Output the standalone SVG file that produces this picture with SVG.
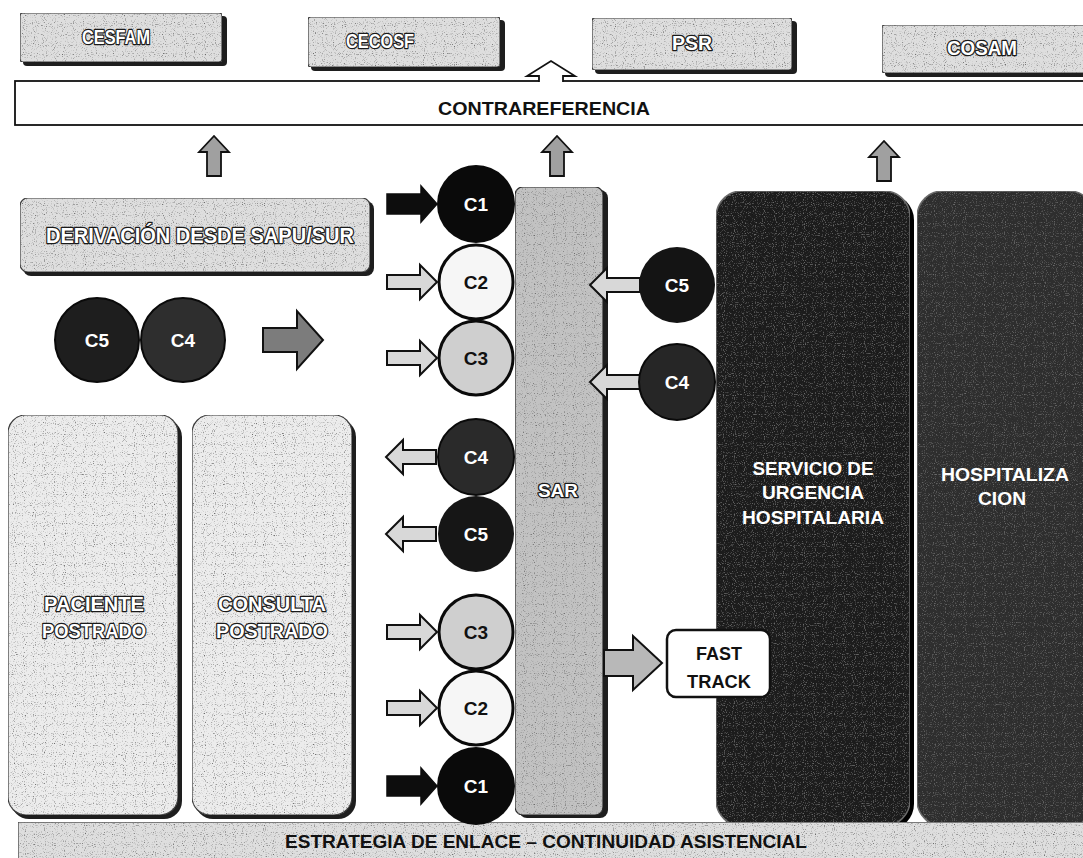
<svg xmlns="http://www.w3.org/2000/svg" xmlns:xlink="http://www.w3.org/1999/xlink" width="1083" height="858" viewBox="0 0 1083 858">
  <style>
    text { font-family: "Liberation Sans", Arial, sans-serif; font-weight: bold; text-anchor: middle; }
    .emb { fill: #ffffff; stroke: #1a1a1a; stroke-width: 2.6; paint-order: stroke fill; stroke-linejoin: round; }
    .dark { fill: #111111; }
    .white { fill: #ffffff; }
    .shadow { fill: #1e1e1e; }
    .tab { fill: #dedede; stroke: #3a3a3a; stroke-width: 1.2; }
    .pale { fill: #ececec; stroke: #3a3a3a; stroke-width: 1.2; }
    .sar { fill: #c2c2c2; stroke: #2a2a2a; stroke-width: 1.2; }
    .arr-solid { fill: #0d0d0d; stroke: #0d0d0d; stroke-width: 1.5; stroke-linejoin: miter; }
    .arr-light { fill: #d8d8d8; stroke: #111111; stroke-width: 2; stroke-linejoin: miter; }
    .arr-mid { fill: #a0a0a0; stroke: #111111; stroke-width: 1.8; stroke-linejoin: miter; }
    .arr-grey { fill: #7c7c7c; stroke: #111111; stroke-width: 2; stroke-linejoin: miter; }
    .cnum { font-size: 19px; }
  </style>
  <defs>
    <!-- speckled print texture for the grey panels -->
    <filter id="speck" x="0" y="0" width="1" height="1">
      <feTurbulence type="fractalNoise" baseFrequency="0.9" numOctaves="1" seed="7" result="n"/>
      <feColorMatrix in="n" type="matrix" values="0 0 0 0 0.15  0 0 0 0 0.15  0 0 0 0 0.15  0 0 0 -4 1.75" result="d"/>
      <feComposite in="d" in2="SourceAlpha" operator="in" result="dc"/>
      <feMerge><feMergeNode in="SourceGraphic"/><feMergeNode in="dc"/></feMerge>
    </filter>
    <!-- block arrow pointing right, tip at origin -->
    <path id="ar" d="M-50,-7 H-17 V-17 L0,0 L-17,17 V7 H-50 Z"/>
    <path id="arBold" d="M-50,-10 H-16 V-18 L0,0 L-16,18 V10 H-50 Z"/>
    <!-- block arrow pointing up, base at origin -->
    <path id="au" d="M-7,0 V-24 H-15 L0,-40 L15,-24 H7 V0 Z"/>
  </defs>

  <rect width="1083" height="858" fill="#ffffff"/>

  <!-- top row of primary care centres -->
  <g id="cesfam">
    <rect class="shadow" x="23" y="16" width="204" height="50" rx="4"/>
    <rect class="tab" x="20" y="13" width="202" height="49" rx="3" filter="url(#speck)"/>
    <text class="emb" x="116" y="44" font-size="20" textLength="68" lengthAdjust="spacingAndGlyphs">CESFAM</text>
  </g>
  <g id="cecosf">
    <rect class="shadow" x="311" y="20" width="194" height="51" rx="4"/>
    <rect class="tab" x="308" y="17" width="192" height="50" rx="3" filter="url(#speck)"/>
    <text class="emb" x="380" y="48" font-size="20" textLength="68" lengthAdjust="spacingAndGlyphs">CECOSF</text>
  </g>
  <g id="psr">
    <rect class="shadow" x="595" y="21" width="202" height="53" rx="4"/>
    <rect class="tab" x="592" y="18" width="200" height="52" rx="3" filter="url(#speck)"/>
    <text class="emb" x="692" y="50" font-size="20" textLength="40" lengthAdjust="spacingAndGlyphs">PSR</text>
  </g>
  <g id="cosam">
    <rect class="shadow" x="885" y="28" width="210" height="49" rx="4"/>
    <rect class="tab" x="882" y="25" width="210" height="48" rx="3" filter="url(#speck)"/>
    <text class="emb" x="982" y="55" font-size="20" textLength="70" lengthAdjust="spacingAndGlyphs">COSAM</text>
  </g>

  <!-- counter-referral band -->
  <g id="contrareferencia">
    <rect x="15" y="81" width="1080" height="44" fill="#ffffff" stroke="#111111" stroke-width="1.8"/>
    <text class="dark" x="544" y="115" font-size="18" textLength="212" lengthAdjust="spacingAndGlyphs">CONTRAREFERENCIA</text>
    <polygon points="539,83 539,76 527,76 551,61 575,76 563,76 563,83" fill="#ffffff"/>
    <polyline points="539,82 539,76 527,76 551,61 575,76 563,76 563,82" fill="none" stroke="#111111" stroke-width="1.8" stroke-linejoin="miter"/>
  </g>

  <!-- referral from SAPU/SUR -->
  <g id="derivacion">
    <rect class="shadow" x="23" y="201" width="351" height="75" rx="8"/>
    <rect class="tab" x="20" y="198" width="350" height="74" rx="8" filter="url(#speck)"/>
    <text class="emb" x="200" y="243" font-size="22" textLength="308" lengthAdjust="spacingAndGlyphs">DERIVACIÓN DESDE SAPU/SUR</text>
  </g>

  <!-- bedridden patient columns -->
  <g id="paciente-postrado">
    <rect class="shadow" x="11" y="419" width="171" height="400" rx="18"/>
    <rect class="pale" x="8" y="415" width="170" height="400" rx="18" filter="url(#speck)"/>
    <text class="emb" x="94" y="611" font-size="21" textLength="100" lengthAdjust="spacingAndGlyphs">PACIENTE</text>
    <text class="emb" x="94" y="638" font-size="21" textLength="104" lengthAdjust="spacingAndGlyphs">POSTRADO</text>
  </g>
  <g id="consulta-postrado">
    <rect class="shadow" x="195" y="419" width="161" height="400" rx="18"/>
    <rect class="pale" x="192" y="415" width="160" height="400" rx="18" filter="url(#speck)"/>
    <text class="emb" x="272" y="611" font-size="21" textLength="108" lengthAdjust="spacingAndGlyphs">CONSULTA</text>
    <text class="emb" x="272" y="638" font-size="21" textLength="112" lengthAdjust="spacingAndGlyphs">POSTRADO</text>
  </g>

  <!-- SAR column -->
  <g id="sar">
    <rect class="shadow" x="519" y="190" width="89" height="628" rx="8"/>
    <rect class="sar" x="515" y="187" width="88" height="628" rx="8" filter="url(#speck)"/>
    <text class="emb" x="558" y="497" font-size="19">SAR</text>
  </g>

  <!-- hospital emergency service and inpatient care -->
  <g id="servicio-urgencia">
    <rect x="719" y="194" width="195" height="636" rx="26" fill="#000000"/>
    <rect x="716" y="191" width="194" height="635" rx="26" fill="#1b1b1b" stroke="#6a6a6a" stroke-width="1.5" filter="url(#speck)"/>
    <text class="white" x="813" y="475" font-size="19" textLength="121" lengthAdjust="spacingAndGlyphs">SERVICIO DE</text>
    <text class="white" x="813" y="499" font-size="19" textLength="102" lengthAdjust="spacingAndGlyphs">URGENCIA</text>
    <text class="white" x="813" y="524" font-size="19" textLength="142" lengthAdjust="spacingAndGlyphs">HOSPITALARIA</text>
  </g>
  <g id="hospitalizacion">
    <rect x="920" y="194" width="180" height="636" rx="26" fill="#000000"/>
    <rect x="917" y="191" width="178" height="635" rx="26" fill="#2e2e2e" stroke="#6a6a6a" stroke-width="1.5" filter="url(#speck)"/>
    <text class="white" x="1005" y="481" font-size="19" textLength="128" lengthAdjust="spacingAndGlyphs">HOSPITALIZA</text>
    <text class="white" x="1002" y="505" font-size="19" textLength="48" lengthAdjust="spacingAndGlyphs">CION</text>
  </g>

  <!-- fast track box -->
  <g id="fast-track">
    <rect x="667" y="630" width="103" height="67" rx="9" fill="#ffffff" stroke="#111111" stroke-width="2.5"/>
    <text class="dark" x="719" y="660" font-size="18" textLength="46" lengthAdjust="spacingAndGlyphs">FAST</text>
    <text class="dark" x="719" y="688" font-size="18" textLength="64" lengthAdjust="spacingAndGlyphs">TRACK</text>
  </g>

  <!-- bottom band -->
  <g id="estrategia">
    <rect class="tab" x="18" y="822" width="1080" height="40" filter="url(#speck)"/>
    <text class="dark" x="546" y="848" font-size="19" textLength="522" lengthAdjust="spacingAndGlyphs">ESTRATEGIA DE ENLACE – CONTINUIDAD ASISTENCIAL</text>
  </g>

  <!-- connectors -->
  <g id="connectors">
    <use xlink:href="#au" class="arr-mid" transform="translate(214,176)"/>
    <use xlink:href="#au" class="arr-mid" transform="translate(557,176)"/>
    <use xlink:href="#au" class="arr-mid" transform="translate(884,181)"/>

    <use xlink:href="#arBold" class="arr-solid" transform="translate(437,204)"/>
    <use xlink:href="#ar" class="arr-light" transform="translate(437,282)"/>
    <use xlink:href="#ar" class="arr-light" transform="translate(437,358)"/>

    <use xlink:href="#ar" class="arr-light" transform="translate(386,457) scale(-1,1)"/>
    <use xlink:href="#ar" class="arr-light" transform="translate(386,534) scale(-1,1)"/>
    <use xlink:href="#ar" class="arr-light" transform="translate(437,632)"/>
    <use xlink:href="#ar" class="arr-light" transform="translate(437,708)"/>
    <use xlink:href="#arBold" class="arr-solid" transform="translate(437,786)"/>

    <use xlink:href="#ar" class="arr-light" transform="translate(590,285) scale(-1,1)"/>
    <use xlink:href="#ar" class="arr-light" transform="translate(590,382) scale(-1,1)"/>

    <path class="arr-grey" d="M263,328 H297 V311 L323,340 L297,369 V352 H263 Z"/>
    <path class="arr-light" d="M604,650 H633 V636 L662,663 L633,690 V676 H604 Z" style="fill:#b8b8b8"/>
  </g>

  <!-- triage category circles -->
  <g id="c5-c4-pair">
    <circle cx="97" cy="340" r="42" fill="#1e1e1e" stroke="#0a0a0a" stroke-width="2"/>
    <text class="white cnum" x="97" y="347">C5</text>
    <circle cx="183" cy="340" r="42" fill="#2e2e2e" stroke="#0a0a0a" stroke-width="2"/>
    <text class="white cnum" x="183" y="347">C4</text>
  </g>
  <g id="c1-top">
    <circle cx="476" cy="204" r="39" fill="#0a0a0a"/>
    <text class="white cnum" x="476" y="211">C1</text>
  </g>
  <g id="c2-top">
    <circle cx="476" cy="282" r="37" fill="#f6f6f6" stroke="#0a0a0a" stroke-width="3"/>
    <text class="dark cnum" x="476" y="289">C2</text>
  </g>
  <g id="c3-top">
    <circle cx="476" cy="358" r="37" fill="#cfcfcf" stroke="#0a0a0a" stroke-width="3"/>
    <text class="dark cnum" x="476" y="365">C3</text>
  </g>
  <g id="c5-right">
    <circle cx="677" cy="285" r="38" fill="#141414"/>
    <text class="white cnum" x="677" y="292">C5</text>
  </g>
  <g id="c4-right">
    <circle cx="677" cy="382" r="38" fill="#262626" stroke="#0a0a0a" stroke-width="2"/>
    <text class="white cnum" x="677" y="389">C4</text>
  </g>
  <g id="c4-bottom">
    <circle cx="476" cy="457" r="38" fill="#2a2a2a" stroke="#0a0a0a" stroke-width="2"/>
    <text class="white cnum" x="476" y="464">C4</text>
  </g>
  <g id="c5-bottom">
    <circle cx="476" cy="534" r="38" fill="#161616"/>
    <text class="white cnum" x="476" y="541">C5</text>
  </g>
  <g id="c3-bottom">
    <circle cx="476" cy="632" r="37" fill="#cfcfcf" stroke="#0a0a0a" stroke-width="3"/>
    <text class="dark cnum" x="476" y="639">C3</text>
  </g>
  <g id="c2-bottom">
    <circle cx="476" cy="708" r="37" fill="#f6f6f6" stroke="#0a0a0a" stroke-width="3"/>
    <text class="dark cnum" x="476" y="715">C2</text>
  </g>
  <g id="c1-bottom">
    <circle cx="476" cy="786" r="39" fill="#0a0a0a"/>
    <text class="white cnum" x="476" y="793">C1</text>
  </g>
</svg>
